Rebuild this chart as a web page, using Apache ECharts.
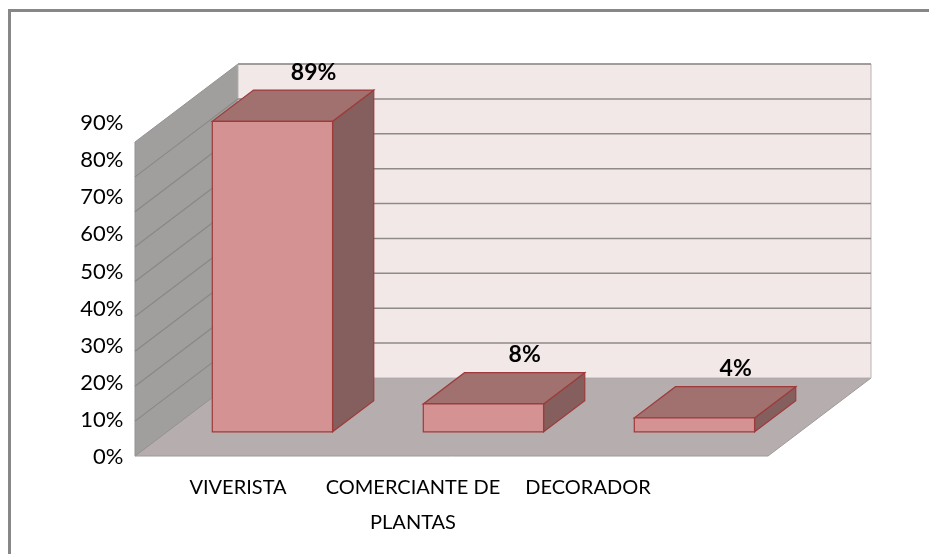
<!DOCTYPE html>
<html>
<head>
<meta charset="utf-8">
<script src="https://cdn.jsdelivr.net/npm/echarts@6/dist/echarts.min.js"></script>
<style>
  html, body { margin: 0; padding: 0; background: #fff; }
  #main { width: 929px; height: 554px; }
</style>
</head>
<body>
<div id="main"></div>
<script>
// data
var categories = ['VIVERISTA', 'COMERCIANTE DE\nPLANTAS', 'DECORADOR'];
var values = [89, 8, 4];
var yTicks = [0, 10, 20, 30, 40, 50, 60, 70, 80, 90];
var yMax = 90;

// oblique depth of the 3d box (px)
var DX = 103, DY = -78;
var FONT = 'Lato, "Open Sans", sans-serif';

function renderWalls(params, api) {
  var cs = params.coordSys;
  var x0 = cs.x, x1 = cs.x + cs.width;
  var yb = api.coord([0, 0])[1], yt = api.coord([0, yMax])[1];
  var kids = [];
  // floor
  kids.push({ type: 'polygon', shape: { points: [[x0, yb], [x1, yb], [x1 + DX, yb + DY], [x0 + DX, yb + DY]] },
    style: { fill: '#b6aeae', stroke: '#a09a9a', lineWidth: 1 } });
  // left wall
  kids.push({ type: 'polygon', shape: { points: [[x0, yb], [x0, yt], [x0 + DX, yt + DY], [x0 + DX, yb + DY]] },
    style: { fill: '#a19e9e', stroke: '#959292', lineWidth: 1 } });
  // back wall
  kids.push({ type: 'rect', shape: { x: x0 + DX, y: yt + DY, width: cs.width, height: yb - yt },
    style: { fill: '#f3e8e8', stroke: '#b8b4b4', lineWidth: 1 } });
  yTicks.forEach(function (v) {
    if (v === 0) return;
    var y = api.coord([0, v])[1];
    kids.push({ type: 'line', shape: { x1: x0 + DX, y1: y + DY, x2: x1 + DX, y2: y + DY },
      style: { stroke: '#8e8a8a', lineWidth: 1.5 } });
    if (v < yMax) {
      kids.push({ type: 'line', shape: { x1: x0, y1: y, x2: x0 + DX, y2: y + DY },
        style: { stroke: '#8a8787', lineWidth: 1.2 } });
    }
  });
  return { type: 'group', children: kids };
}

function renderBar(params, api) {
  var i = api.value(0), v = api.value(1);
  var top = api.coord([i, v]), base = api.coord([i, 0]);
  var bw = api.size([1, 0])[0] * 0.57;
  var fx = DX * 0.31, fy = DY * 0.31;   // bar front sits a bit into the floor
  var bx = DX * 0.40, by = DY * 0.40;   // bar depth
  var l = top[0] - bw / 2 + fx, r = l + bw;
  var t = top[1] + fy, b = base[1] + fy;
  var edge = '#9e3a3a';
  return {
    type: 'group',
    children: [
      { type: 'polygon', shape: { points: [[r, t], [r + bx, t + by], [r + bx, b + by], [r, b]] },
        style: { fill: '#845f5d', stroke: edge, lineWidth: 1.2 } },
      { type: 'polygon', shape: { points: [[l, t], [r, t], [r + bx, t + by], [l + bx, t + by]] },
        style: { fill: '#a0716f', stroke: edge, lineWidth: 1.2 } },
      { type: 'rect', shape: { x: l, y: t, width: bw, height: b - t },
        style: { fill: '#d49292', stroke: edge, lineWidth: 1.2 } },
      { type: 'text', x: (l + r) / 2 + bx, y: t + by - 18,
        style: { text: values[i] + '%', fill: '#000', fontFamily: FONT, fontWeight: 'bold', fontSize: 23,
          align: 'center', verticalAlign: 'middle' } }
    ]
  };
}

var chart = echarts.init(document.getElementById('main'));
chart.setOption({
  animation: false,
  backgroundColor: '#fff',
  graphic: [{
    type: 'rect', shape: { x: 9.5, y: 10.5, width: 1000, height: 1000 },
    style: { fill: 'none', stroke: '#878787', lineWidth: 3 }, silent: true
  }],
  grid: [
    { left: 135, right: 161, top: 142, bottom: 98 },      // front plane of the 3d box
    { left: 150.5, right: 253.5, top: 123, bottom: 97 }   // where excel put the tick labels
  ],
  xAxis: [
    { gridIndex: 0, type: 'category', data: categories, show: false },
    { gridIndex: 1, type: 'category', data: categories,
      axisLine: { show: false }, axisTick: { show: false },
      axisLabel: { interval: 0, margin: 13, color: '#000', fontFamily: FONT, fontSize: 20, lineHeight: 35 } }
  ],
  yAxis: [
    { gridIndex: 0, type: 'value', min: 0, max: yMax, interval: 10, show: false },
    { gridIndex: 1, type: 'value', min: 0, max: yMax, interval: 10,
      axisLine: { show: false }, axisTick: { show: false }, splitLine: { show: false },
      axisLabel: { margin: 27, color: '#000', fontFamily: FONT, fontSize: 22, formatter: '{value}%' } }
  ],
  series: [
    { type: 'custom', xAxisIndex: 0, yAxisIndex: 0, renderItem: renderWalls, data: [[0, 0]], silent: true, z: 1 },
    { type: 'custom', xAxisIndex: 0, yAxisIndex: 0, renderItem: renderBar,
      data: values.map(function (v, i) { return [i, v]; }), silent: true, z: 2 }
  ]
});
</script>
</body>
</html>
